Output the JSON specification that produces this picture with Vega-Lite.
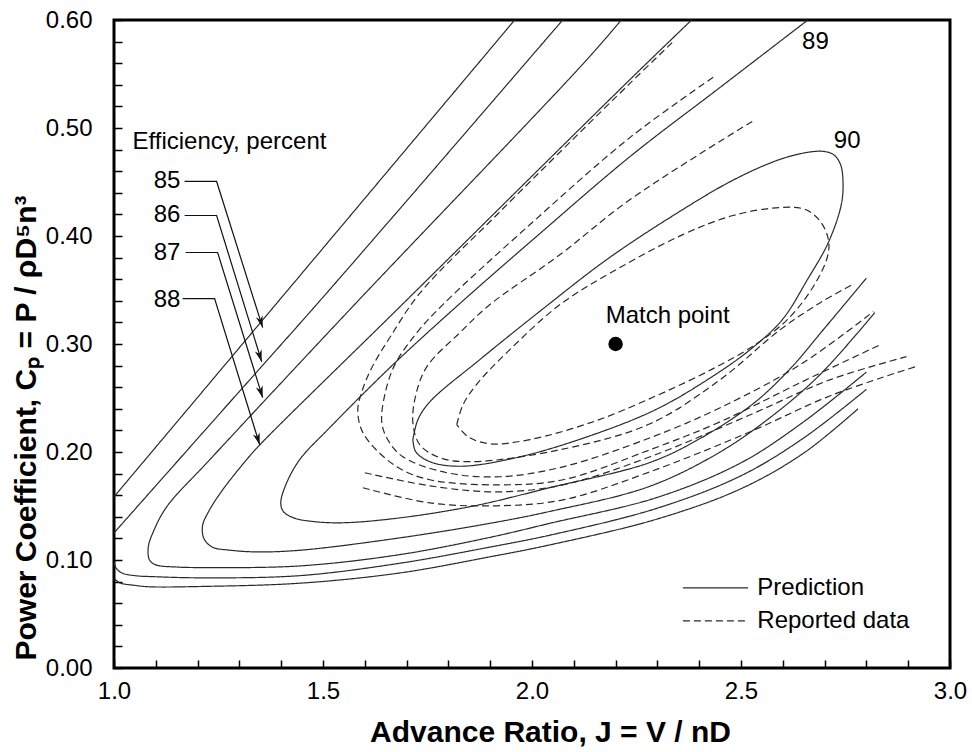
{
  "$schema": "https://vega.github.io/schema/vega-lite/v6.json",
  "width": 836,
  "height": 648,
  "autosize": {"type": "none"},
  "padding": {"left": 114, "top": 20, "right": 22, "bottom": 84},
  "background": "white",
  "datasets": {
    "open": [
      {"c":"85u","s":"P","i":0,"x":1.0,"y":0.1585},{"c":"85u","s":"P","i":1,"x":1.48,"y":0.3795},{"c":"85u","s":"P","i":2,"x":1.965,"y":0.603},
      {"c":"85l","s":"P","i":0,"x":1.0,"y":0.0834},{"c":"85l","s":"P","i":1,"x":1.013,"y":0.079},{"c":"85l","s":"P","i":2,"x":1.05,"y":0.0765},{"c":"85l","s":"P","i":3,"x":1.085,"y":0.0752},{"c":"85l","s":"P","i":4,"x":1.21,"y":0.0755},{"c":"85l","s":"P","i":5,"x":1.444,"y":0.0785},{"c":"85l","s":"P","i":6,"x":1.684,"y":0.088},{"c":"85l","s":"P","i":7,"x":1.9,"y":0.103},{"c":"85l","s":"P","i":8,"x":2.043,"y":0.114},{"c":"85l","s":"P","i":9,"x":2.3,"y":0.138},{"c":"85l","s":"P","i":10,"x":2.5,"y":0.166},{"c":"85l","s":"P","i":11,"x":2.65,"y":0.199},{"c":"85l","s":"P","i":12,"x":2.78,"y":0.24},
      {"c":"86u","s":"P","i":0,"x":1.0,"y":0.1251},{"c":"86u","s":"P","i":1,"x":1.25,"y":0.2343},{"c":"86u","s":"P","i":2,"x":1.516,"y":0.3504},{"c":"86u","s":"P","i":3,"x":2.08,"y":0.603},
      {"c":"86l","s":"P","i":0,"x":1.0,"y":0.098},{"c":"86l","s":"P","i":1,"x":1.006,"y":0.092},{"c":"86l","s":"P","i":2,"x":1.02,"y":0.0878},{"c":"86l","s":"P","i":3,"x":1.05,"y":0.0855},{"c":"86l","s":"P","i":4,"x":1.1,"y":0.0845},{"c":"86l","s":"P","i":5,"x":1.21,"y":0.0835},{"c":"86l","s":"P","i":6,"x":1.444,"y":0.0855},{"c":"86l","s":"P","i":7,"x":1.684,"y":0.097},{"c":"86l","s":"P","i":8,"x":1.9,"y":0.112},{"c":"86l","s":"P","i":9,"x":2.043,"y":0.123},{"c":"86l","s":"P","i":10,"x":2.3,"y":0.148},{"c":"86l","s":"P","i":11,"x":2.5,"y":0.178},{"c":"86l","s":"P","i":12,"x":2.65,"y":0.213},{"c":"86l","s":"P","i":13,"x":2.8,"y":0.258},
      {"c":"87","s":"P","i":0,"x":2.22,"y":0.603},{"c":"87","s":"P","i":1,"x":2.132,"y":0.5636},{"c":"87","s":"P","i":2,"x":1.564,"y":0.3318},{"c":"87","s":"P","i":3,"x":1.229,"y":0.1928},{"c":"87","s":"P","i":4,"x":1.126,"y":0.1492},{"c":"87","s":"P","i":5,"x":1.095,"y":0.127},{"c":"87","s":"P","i":6,"x":1.082,"y":0.112},{"c":"87","s":"P","i":7,"x":1.085,"y":0.1},{"c":"87","s":"P","i":8,"x":1.1,"y":0.0955},{"c":"87","s":"P","i":9,"x":1.15,"y":0.0935},{"c":"87","s":"P","i":10,"x":1.21,"y":0.093},{"c":"87","s":"P","i":11,"x":1.444,"y":0.0945},{"c":"87","s":"P","i":12,"x":1.684,"y":0.105},{"c":"87","s":"P","i":13,"x":1.9,"y":0.121},{"c":"87","s":"P","i":14,"x":2.043,"y":0.134},{"c":"87","s":"P","i":15,"x":2.3,"y":0.158},{"c":"87","s":"P","i":16,"x":2.5,"y":0.19},{"c":"87","s":"P","i":17,"x":2.65,"y":0.228},{"c":"87","s":"P","i":18,"x":2.8,"y":0.274},
      {"c":"88","s":"P","i":0,"x":2.39,"y":0.603},{"c":"88","s":"P","i":1,"x":2.235,"y":0.5451},{"c":"88","s":"P","i":2,"x":1.677,"y":0.3318},{"c":"88","s":"P","i":3,"x":1.349,"y":0.2067},{"c":"88","s":"P","i":4,"x":1.317,"y":0.1928},{"c":"88","s":"P","i":5,"x":1.26,"y":0.165},{"c":"88","s":"P","i":6,"x":1.228,"y":0.146},{"c":"88","s":"P","i":7,"x":1.212,"y":0.132},{"c":"88","s":"P","i":8,"x":1.215,"y":0.12},{"c":"88","s":"P","i":9,"x":1.235,"y":0.112},{"c":"88","s":"P","i":10,"x":1.28,"y":0.109},{"c":"88","s":"P","i":11,"x":1.341,"y":0.1075},{"c":"88","s":"P","i":12,"x":1.444,"y":0.109},{"c":"88","s":"P","i":13,"x":1.684,"y":0.1205},{"c":"88","s":"P","i":14,"x":1.9,"y":0.134},{"c":"88","s":"P","i":15,"x":2.043,"y":0.145},{"c":"88","s":"P","i":16,"x":2.28,"y":0.168},{"c":"88","s":"P","i":17,"x":2.45,"y":0.2},{"c":"88","s":"P","i":18,"x":2.58,"y":0.235},{"c":"88","s":"P","i":19,"x":2.69,"y":0.272},{"c":"88","s":"P","i":20,"x":2.82,"y":0.329},
      {"c":"89","s":"P","i":0,"x":2.67,"y":0.603},{"c":"89","s":"P","i":1,"x":2.45,"y":0.5376},{"c":"89","s":"P","i":2,"x":2.235,"y":0.4737},{"c":"89","s":"P","i":3,"x":2.019,"y":0.4023},{"c":"89","s":"P","i":4,"x":1.811,"y":0.3318},{"c":"89","s":"P","i":5,"x":1.66,"y":0.2781},{"c":"89","s":"P","i":6,"x":1.516,"y":0.2225},{"c":"89","s":"P","i":7,"x":1.444,"y":0.1928},{"c":"89","s":"P","i":8,"x":1.411,"y":0.1696},{"c":"89","s":"P","i":9,"x":1.399,"y":0.153},{"c":"89","s":"P","i":10,"x":1.405,"y":0.145},{"c":"89","s":"P","i":11,"x":1.43,"y":0.139},{"c":"89","s":"P","i":12,"x":1.48,"y":0.1355},{"c":"89","s":"P","i":13,"x":1.55,"y":0.1345},{"c":"89","s":"P","i":14,"x":1.684,"y":0.139},{"c":"89","s":"P","i":15,"x":1.86,"y":0.15},{"c":"89","s":"P","i":16,"x":2.043,"y":0.167},{"c":"89","s":"P","i":17,"x":2.28,"y":0.19},{"c":"89","s":"P","i":18,"x":2.4,"y":0.212},{"c":"89","s":"P","i":19,"x":2.53,"y":0.245},{"c":"89","s":"P","i":20,"x":2.62,"y":0.278},{"c":"89","s":"P","i":21,"x":2.69,"y":0.31},{"c":"89","s":"P","i":22,"x":2.8,"y":0.361},
      {"c":"90","s":"P","i":0,"x":1.715,"y":0.2113},{"c":"90","s":"P","i":1,"x":1.727,"y":0.2299},{"c":"90","s":"P","i":2,"x":1.756,"y":0.2466},{"c":"90","s":"P","i":3,"x":1.875,"y":0.2855},{"c":"90","s":"P","i":4,"x":2.026,"y":0.3325},{"c":"90","s":"P","i":5,"x":2.18,"y":0.3785},{"c":"90","s":"P","i":6,"x":2.34,"y":0.4195},{"c":"90","s":"P","i":7,"x":2.48,"y":0.4515},{"c":"90","s":"P","i":8,"x":2.59,"y":0.4705},{"c":"90","s":"P","i":9,"x":2.66,"y":0.4775},{"c":"90","s":"P","i":10,"x":2.698,"y":0.4783},{"c":"90","s":"P","i":11,"x":2.722,"y":0.4752},{"c":"90","s":"P","i":12,"x":2.738,"y":0.4663},{"c":"90","s":"P","i":13,"x":2.744,"y":0.4505},{"c":"90","s":"P","i":14,"x":2.74,"y":0.4292},{"c":"90","s":"P","i":15,"x":2.709,"y":0.394},{"c":"90","s":"P","i":16,"x":2.659,"y":0.3597},{"c":"90","s":"P","i":17,"x":2.599,"y":0.3226},{"c":"90","s":"P","i":18,"x":2.522,"y":0.2948},{"c":"90","s":"P","i":19,"x":2.43,"y":0.2695},{"c":"90","s":"P","i":20,"x":2.3,"y":0.24},{"c":"90","s":"P","i":21,"x":2.15,"y":0.2165},{"c":"90","s":"P","i":22,"x":1.971,"y":0.1955},{"c":"90","s":"P","i":23,"x":1.828,"y":0.1868},{"c":"90","s":"P","i":24,"x":1.756,"y":0.191},{"c":"90","s":"P","i":25,"x":1.722,"y":0.2002},{"c":"90","s":"P","i":26,"x":1.715,"y":0.2113},
      {"c":"D4","s":"R","i":0,"x":1.82,"y":0.2253},{"c":"D4","s":"R","i":1,"x":1.835,"y":0.2438},{"c":"D4","s":"R","i":2,"x":1.871,"y":0.2642},{"c":"D4","s":"R","i":3,"x":1.947,"y":0.2948},{"c":"D4","s":"R","i":4,"x":2.067,"y":0.3365},{"c":"D4","s":"R","i":5,"x":2.2,"y":0.3685},{"c":"D4","s":"R","i":6,"x":2.362,"y":0.4015},{"c":"D4","s":"R","i":7,"x":2.481,"y":0.419},{"c":"D4","s":"R","i":8,"x":2.594,"y":0.4264},{"c":"D4","s":"R","i":9,"x":2.654,"y":0.4245},{"c":"D4","s":"R","i":10,"x":2.69,"y":0.4134},{"c":"D4","s":"R","i":11,"x":2.709,"y":0.3967},{"c":"D4","s":"R","i":12,"x":2.707,"y":0.381},{"c":"D4","s":"R","i":13,"x":2.673,"y":0.3532},{"c":"D4","s":"R","i":14,"x":2.611,"y":0.3226},{"c":"D4","s":"R","i":15,"x":2.534,"y":0.2994},{"c":"D4","s":"R","i":16,"x":2.43,"y":0.2765},{"c":"D4","s":"R","i":17,"x":2.3,"y":0.2525},{"c":"D4","s":"R","i":18,"x":2.15,"y":0.2285},{"c":"D4","s":"R","i":19,"x":1.995,"y":0.2115},{"c":"D4","s":"R","i":20,"x":1.899,"y":0.2076},{"c":"D4","s":"R","i":21,"x":1.847,"y":0.2141},{"c":"D4","s":"R","i":22,"x":1.82,"y":0.2253},
      {"c":"D1","s":"R","i":0,"x":2.3353,"y":0.579},{"c":"D1","s":"R","i":1,"x":2.2347,"y":0.5415},{"c":"D1","s":"R","i":2,"x":1.9234,"y":0.4225},{"c":"D1","s":"R","i":3,"x":1.7317,"y":0.347},{"c":"D1","s":"R","i":4,"x":1.6599,"y":0.306},{"c":"D1","s":"R","i":5,"x":1.6168,"y":0.2781},{"c":"D1","s":"R","i":6,"x":1.5928,"y":0.2558},{"c":"D1","s":"R","i":7,"x":1.5832,"y":0.2392},{"c":"D1","s":"R","i":8,"x":1.5904,"y":0.2225},{"c":"D1","s":"R","i":9,"x":1.612,"y":0.2086},{"c":"D1","s":"R","i":10,"x":1.6766,"y":0.1863},{"c":"D1","s":"R","i":11,"x":1.7557,"y":0.1743},{"c":"D1","s":"R","i":12,"x":1.9234,"y":0.1696},{"c":"D1","s":"R","i":13,"x":2.0743,"y":0.1743},{"c":"D1","s":"R","i":14,"x":2.2826,"y":0.2021},{"c":"D1","s":"R","i":15,"x":2.4503,"y":0.228},{"c":"D1","s":"R","i":16,"x":2.6419,"y":0.2642},{"c":"D1","s":"R","i":17,"x":2.8335,"y":0.2994},
      {"c":"D2","s":"R","i":0,"x":2.4335,"y":0.5469},{"c":"D2","s":"R","i":1,"x":2.2347,"y":0.4913},{"c":"D2","s":"R","i":2,"x":1.9952,"y":0.4106},{"c":"D2","s":"R","i":3,"x":1.7868,"y":0.3365},{"c":"D2","s":"R","i":4,"x":1.7246,"y":0.3105},{"c":"D2","s":"R","i":5,"x":1.6719,"y":0.2809},{"c":"D2","s":"R","i":6,"x":1.6479,"y":0.2531},{"c":"D2","s":"R","i":7,"x":1.6407,"y":0.2271},{"c":"D2","s":"R","i":8,"x":1.6551,"y":0.2113},{"c":"D2","s":"R","i":9,"x":1.691,"y":0.1956},{"c":"D2","s":"R","i":10,"x":1.7964,"y":0.1808},{"c":"D2","s":"R","i":11,"x":1.9234,"y":0.1771},{"c":"D2","s":"R","i":12,"x":2.0743,"y":0.1863},{"c":"D2","s":"R","i":13,"x":2.2826,"y":0.2132},{"c":"D2","s":"R","i":14,"x":2.4503,"y":0.241},{"c":"D2","s":"R","i":15,"x":2.6419,"y":0.2809},{"c":"D2","s":"R","i":16,"x":2.8168,"y":0.33},
      {"c":"D3","s":"R","i":0,"x":2.5269,"y":0.5061},{"c":"D3","s":"R","i":1,"x":2.2347,"y":0.4338},{"c":"D3","s":"R","i":2,"x":2.0671,"y":0.3828},{"c":"D3","s":"R","i":3,"x":1.8994,"y":0.3365},{"c":"D3","s":"R","i":4,"x":1.8275,"y":0.3105},{"c":"D3","s":"R","i":5,"x":1.7485,"y":0.279},{"c":"D3","s":"R","i":6,"x":1.7222,"y":0.2531},{"c":"D3","s":"R","i":7,"x":1.715,"y":0.2271},{"c":"D3","s":"R","i":8,"x":1.7317,"y":0.2067},{"c":"D3","s":"R","i":9,"x":1.7796,"y":0.1947},{"c":"D3","s":"R","i":10,"x":1.8515,"y":0.191},{"c":"D3","s":"R","i":11,"x":2.0671,"y":0.2021},{"c":"D3","s":"R","i":12,"x":2.2826,"y":0.2262},{"c":"D3","s":"R","i":13,"x":2.4503,"y":0.267},{"c":"D3","s":"R","i":14,"x":2.594,"y":0.3133},{"c":"D3","s":"R","i":15,"x":2.6898,"y":0.3383},{"c":"D3","s":"R","i":16,"x":2.7665,"y":0.355},
      {"c":"D5","s":"R","i":0,"x":1.6,"y":0.1808},{"c":"D5","s":"R","i":1,"x":1.7557,"y":0.1687},{"c":"D5","s":"R","i":2,"x":1.9162,"y":0.1631},{"c":"D5","s":"R","i":3,"x":2.0743,"y":0.1696},{"c":"D5","s":"R","i":4,"x":2.2826,"y":0.1956},{"c":"D5","s":"R","i":5,"x":2.5222,"y":0.2345},{"c":"D5","s":"R","i":6,"x":2.7138,"y":0.267},{"c":"D5","s":"R","i":7,"x":2.8958,"y":0.2883},
      {"c":"D6","s":"R","i":0,"x":1.5952,"y":0.1669},{"c":"D6","s":"R","i":1,"x":1.7557,"y":0.1529},{"c":"D6","s":"R","i":2,"x":1.9162,"y":0.1502},{"c":"D6","s":"R","i":3,"x":2.0743,"y":0.1557},{"c":"D6","s":"R","i":4,"x":2.2826,"y":0.1817},{"c":"D6","s":"R","i":5,"x":2.5222,"y":0.2188},{"c":"D6","s":"R","i":6,"x":2.7138,"y":0.2521},{"c":"D6","s":"R","i":7,"x":2.9246,"y":0.2799},
      {"c":"legP","s":"P","i":0,"x":2.361,"y":0.0742},{"c":"legP","s":"P","i":1,"x":2.517,"y":0.0742},
      {"c":"legR","s":"R","i":0,"x":2.361,"y":0.0436},{"c":"legR","s":"R","i":1,"x":2.517,"y":0.0436}
    ],
    "arrows": [
      {"c":"a85","i":0,"x":1.1689,"y":0.4505},{"c":"a85","i":1,"x":1.2455,"y":0.4505},{"c":"a85","i":2,"x":1.3557,"y":0.3152},
      {"c":"a86","i":0,"x":1.1689,"y":0.419},{"c":"a86","i":1,"x":1.2455,"y":0.419},{"c":"a86","i":2,"x":1.3533,"y":0.2836},
      {"c":"a87","i":0,"x":1.1713,"y":0.3847},{"c":"a87","i":1,"x":1.2479,"y":0.3847},{"c":"a87","i":2,"x":1.3557,"y":0.2503},
      {"c":"a88","i":0,"x":1.1641,"y":0.342},{"c":"a88","i":1,"x":1.2407,"y":0.342},{"c":"a88","i":2,"x":1.3485,"y":0.2067}
    ],
    "heads": [
      {"x":1.3557,"y":0.3152,"a":-17.5},{"x":1.3533,"y":0.2836,"a":-17},{"x":1.3557,"y":0.2503,"a":-17},{"x":1.3485,"y":0.2067,"a":-17}
    ],
    "txtL": [
      {"x":1.0443,"y":0.4866,"t":"Efficiency, percent"},
      {"x":2.539,"y":0.0742,"t":"Prediction"},
      {"x":2.539,"y":0.0436,"t":"Reported data"}
    ],
    "txtR": [
      {"x":1.159,"y":0.4505,"t":"85"},{"x":1.159,"y":0.419,"t":"86"},{"x":1.159,"y":0.3842,"t":"87"},{"x":1.159,"y":0.3411,"t":"88"}
    ],
    "txtC": [
      {"x":2.3246,"y":0.326,"t":"Match point"},{"x":2.678,"y":0.5797,"t":"89"},{"x":2.754,"y":0.4876,"t":"90"}
    ],
    "match": [{"x":2.2,"y":0.3}]
  },
  "encoding": {
    "x": {
      "field": "x", "type": "quantitative",
      "scale": {"domain": [1, 3], "nice": false, "zero": false},
      "axis": {
        "title": "Advance Ratio, J = V / nD",
        "values": [1,1.1,1.2,1.3,1.4,1.5,1.6,1.7,1.8,1.9,2,2.1,2.2,2.3,2.4,2.5,2.6,2.7,2.8,2.9,3],
        "labelExpr": "abs(datum.value*2 - round(datum.value*2)) < 0.001 ? format(datum.value, '.1f') : ''",
        "tickSize": -8, "domain": false, "grid": false, "labelPadding": 19, "labelFlush": false, "labelOverlap": false, "titlePadding": 14,
        "titleX": 436
      }
    },
    "y": {
      "field": "y", "type": "quantitative",
      "scale": {"domain": [0, 0.6], "nice": false, "zero": false},
      "axis": {
        "title": "Power Coefficient, Cₚ = P / ρD⁵n³",
        "values": [0,0.02,0.04,0.06,0.08,0.1,0.12,0.14,0.16,0.18,0.2,0.22,0.24,0.26,0.28,0.3,0.32,0.34,0.36,0.38,0.4,0.42,0.44,0.46,0.48,0.5,0.52,0.54,0.56,0.58,0.6],
        "labelExpr": "abs(datum.value*10 - round(datum.value*10)) < 0.001 ? format(datum.value, '.2f') : ''",
        "tickSize": -8, "domain": false, "grid": false, "labelPadding": 30, "labelFlush": false, "labelOverlap": false,
        "titleX": -73, "titleY": 640, "titleAlign": "left", "titleBaseline": "bottom", "titleAngle": 270
      }
    }
  },
  "layer": [
    {
      "data": {"name": "open"},
      "mark": {"type": "line", "interpolate": "catmull-rom", "clip": true, "stroke": "#2a2a2a", "strokeWidth": 1.2},
      "encoding": {
        "detail": {"field": "c"},
        "order": {"field": "i", "type": "quantitative"},
        "strokeDash": {"field": "s", "type": "nominal", "scale": {"domain": ["P", "R"], "range": [[1, 0], [7, 4]]}, "legend": null}
      }
    },
    {
      "data": {"name": "arrows"},
      "mark": {"type": "line", "interpolate": "linear", "stroke": "#111", "strokeWidth": 1.2},
      "encoding": {
        "detail": {"field": "c"},
        "order": {"field": "i", "type": "quantitative"}
      }
    },
    {
      "data": {"name": "heads"},
      "mark": {"type": "point", "shape": "M -0.3 -1 L 0 0 L 0.3 -1 L 0 -0.7 Z", "filled": true, "color": "#111", "size": 560, "opacity": 1},
      "encoding": {
        "angle": {"field": "a", "type": "quantitative", "scale": null}
      }
    },
    {
      "data": {"name": "match"},
      "mark": {"type": "point", "shape": "circle", "filled": true, "color": "black", "size": 210, "opacity": 1}
    },
    {
      "data": {"name": "txtL"},
      "mark": {"type": "text", "align": "left", "baseline": "middle", "font": "Liberation Sans", "fontSize": 24, "color": "black"},
      "encoding": {"text": {"field": "t"}}
    },
    {
      "data": {"name": "txtR"},
      "mark": {"type": "text", "align": "right", "baseline": "middle", "font": "Liberation Sans", "fontSize": 24, "color": "black"},
      "encoding": {"text": {"field": "t"}}
    },
    {
      "data": {"name": "txtC"},
      "mark": {"type": "text", "align": "center", "baseline": "middle", "font": "Liberation Sans", "fontSize": 24, "color": "black"},
      "encoding": {"text": {"field": "t"}}
    }
  ],
  "config": {
    "view": {"stroke": "black", "strokeWidth": 3},
    "font": "Liberation Sans",
    "axis": {
      "labelFont": "Liberation Sans", "labelFontSize": 24, "labelColor": "black",
      "tickColor": "black", "tickWidth": 1.5,
      "titleFont": "Liberation Sans", "titleFontSize": 30, "titleFontWeight": "bold", "titleColor": "black"
    }
  }
}
